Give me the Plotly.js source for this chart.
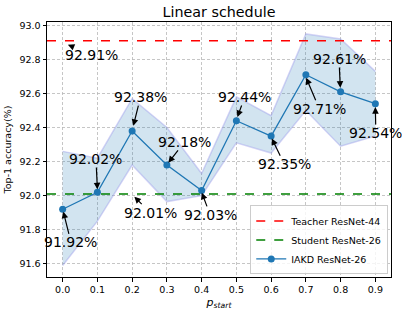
<!DOCTYPE html>
<html>
<head>
<meta charset="utf-8">
<script src="https://cdn.plot.ly/plotly-3.0.1.min.js"></script>
<style>html,body{margin:0;padding:0;background:#fff;}#chart{width:402px;height:313px;}</style>
</head>
<body>
<div id="chart"></div>
<script>
// ---- data ----
const pStart = [0.0, 0.1, 0.2, 0.3, 0.4, 0.5, 0.6, 0.7, 0.8, 0.9];
const iakd = [91.92, 92.02, 92.38, 92.18, 92.03, 92.44, 92.35, 92.71, 92.61, 92.54];
const iakdUpper = [92.26, 92.22, 92.57, 92.40, 92.13, 92.58, 92.47, 92.95, 92.92, 92.73];
const iakdLower = [91.59, 91.85, 92.18, 91.965, 92.00, 92.31, 92.25, 92.50, 92.29, 92.35];
const teacher = 92.91;
const student = 92.01;
const xRange = [-0.045, 0.945];
const yRange = [91.522, 93.02];
const xTicks = [0.0, 0.1, 0.2, 0.3, 0.4, 0.5, 0.6, 0.7, 0.8, 0.9];
const yTicks = [91.6, 91.8, 92.0, 92.2, 92.4, 92.6, 92.8, 93.0];
// annotation labels: [text, tipX, tipY, textX, textY]
const labels = [
  ["92.91%", 0.015, 92.887, 0.082, 92.829],
  ["91.92%", 0.002, 91.906, 0.024, 91.725],
  ["92.02%", 0.100, 92.037, 0.096, 92.215],
  ["92.38%", 0.2035, 92.41, 0.224, 92.579],
  ["92.18%", 0.3043, 92.193, 0.351, 92.316],
  ["92.01%", 0.2064, 91.994, 0.2516, 91.900],
  ["92.03%", 0.4006, 92.0175, 0.4245, 91.887],
  ["92.44%", 0.503, 92.462, 0.524, 92.579],
  ["92.35%", 0.602, 92.336, 0.638, 92.184],
  ["92.71%", 0.701, 92.692, 0.7386, 92.511],
  ["92.61%", 0.799, 92.634, 0.7954, 92.803],
  ["92.54%", 0.900, 92.52, 0.9014, 92.368]
];

const FONT = "DejaVu Sans, sans-serif";

const traces = [
  {x: pStart, y: iakdLower, mode: 'lines', line: {color: 'rgba(160,160,235,0.45)', width: 1.5},
   showlegend: false, hoverinfo: 'skip'},
  {x: pStart, y: iakdUpper, mode: 'lines', fill: 'tonexty', fillcolor: 'rgba(31,119,180,0.2)',
   line: {color: 'rgba(160,160,235,0.45)', width: 1.5}, showlegend: false, hoverinfo: 'skip'},
  {x: xRange, y: [teacher, teacher], mode: 'lines', name: 'Teacher ResNet-44',
   line: {color: '#ff0000', width: 1.5, dash: 'dash'}},
  {x: xRange, y: [student, student], mode: 'lines', name: 'Student ResNet-26',
   line: {color: '#008000', width: 1.5, dash: 'dash'}},
  {x: pStart, y: iakd, mode: 'lines+markers', name: 'IAKD ResNet-26',
   line: {color: '#1f77b4', width: 1.3}, marker: {color: '#1f77b4', size: 7}}
];

const annotations = labels.map(l => ({
  text: l[0], x: l[1], y: l[2], ax: l[3], ay: l[4], xref: 'x', yref: 'y', axref: 'x', ayref: 'y',
  showarrow: true, arrowhead: 2, arrowsize: 1.1, arrowwidth: 1.2, arrowcolor: '#000',
  font: {family: FONT, size: 14, color: '#000'}, borderpad: 0
}));

const layout = {
  width: 402, height: 313,
  margin: {l: 47, r: 11, t: 22, b: 36},
  paper_bgcolor: '#fff', plot_bgcolor: '#fff',
  font: {family: FONT, size: 9.5, color: '#000'},
  title: {text: 'Linear schedule', font: {family: FONT, size: 14.3, color: '#000'},
          x: 0.5, xref: 'paper', y: 0.962, yanchor: 'middle'},
  xaxis: {range: xRange, tickvals: xTicks, ticktext: xTicks.map(v => v.toFixed(1)),
          showline: true, mirror: true, linecolor: '#000', linewidth: 1,
          ticks: 'outside', ticklen: 3.5, tickcolor: '#000',
          showgrid: true, gridcolor: '#b8b8b8', gridwidth: 0.8, griddash: '3px,2px', zeroline: false,
          title: {text: '<i>p</i><sub><i>start</i></sub>', font: {family: FONT, size: 11}, standoff: 4}},
  yaxis: {range: yRange, tickvals: yTicks, ticktext: yTicks.map(v => v.toFixed(1)),
          showline: true, mirror: true, linecolor: '#000', linewidth: 1,
          ticks: 'outside', ticklen: 3.5, tickcolor: '#000',
          showgrid: true, gridcolor: '#b8b8b8', gridwidth: 0.8, griddash: '3px,2px', zeroline: false,
          title: {text: 'Top-1 accuracy(%)', font: {family: FONT, size: 9.5}, standoff: 6}},
  legend: {x: 0.992, y: 0.01, xanchor: 'right', yanchor: 'bottom', traceorder: 'normal',
           bgcolor: 'rgba(255,255,255,0.8)', bordercolor: '#cccccc', borderwidth: 1,
           font: {family: FONT, size: 9.5}, tracegroupgap: 0},
  annotations: annotations,
  showlegend: true
};

Plotly.newPlot('chart', traces, layout, {displayModeBar: false, staticPlot: true});
</script>
</body>
</html>
